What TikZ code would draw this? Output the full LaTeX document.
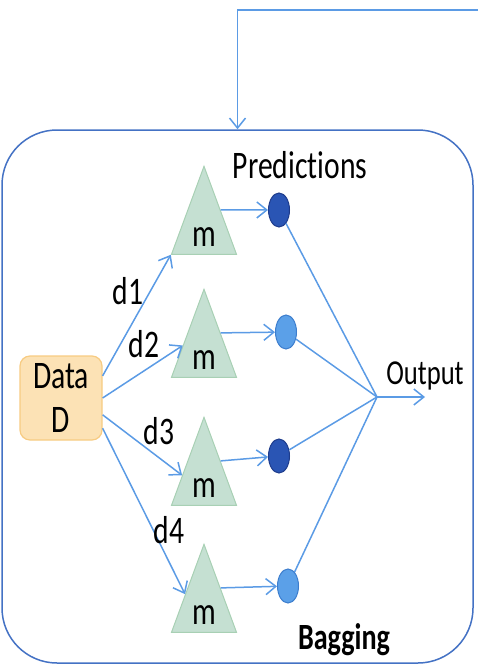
\documentclass[tikz,border=0pt]{standalone}
\usepackage{fontspec}
\setmainfont{Carlito}[FakeStretch=0.76, Ligatures=NoCommon]
\usetikzlibrary{positioning, arrows.meta, shapes.geometric, calc}

\definecolor{linkblue}{RGB}{91,155,229}
\definecolor{frameblue}{RGB}{68,114,196}
\definecolor{trifill}{RGB}{197,224,210}
\definecolor{triline}{RGB}{168,208,180}
\definecolor{datafill}{RGB}{252,226,181}
\definecolor{dataline}{RGB}{247,203,130}
\definecolor{darkpred}{RGB}{42,85,180}
\definecolor{darkpredline}{RGB}{30,60,140}
\definecolor{lightpred}{RGB}{91,160,232}
\definecolor{lightpredline}{RGB}{60,125,205}

\begin{document}
\begin{tikzpicture}[x=1pt, y=-1pt,
    every node/.style={font=\fontsize{39}{40}\selectfont},
    link/.style={draw=linkblue, line width=1.5pt, -{Straight Barb[length=10pt, width=16pt]}},
    voteline/.style={draw=linkblue, line width=1.5pt},
    model/.style={draw=triline, fill=trifill, line width=1pt, isosceles triangle, isosceles triangle stretches, shape border rotate=90, minimum width=65pt, minimum height=88pt, inner sep=0pt, anchor=apex},
    pred/.style={ellipse, minimum width=21pt, minimum height=34pt, inner sep=0pt, line width=1pt},
    darkp/.style={pred, draw=darkpredline, fill=darkpred},
    lightp/.style={pred, draw=lightpredline, fill=lightpred}]
    \useasboundingbox (0,0) rectangle (477,666);
    \node[draw=frameblue, line width=1.5pt, rounded corners=55pt, minimum width=471pt, minimum height=533pt] (frame) at (237.5,396.5) {};
    \coordinate (fb) at (478,10);
    \draw[link] (fb) -| (frame.north);

    \node[draw=dataline, fill=datafill, line width=1.2pt, rounded corners=10pt, minimum width=82pt, minimum height=84pt, align=center, inner sep=0pt, font=\fontsize{39}{44}\selectfont] (data) at (61,398) {Data\\D};

    % models
    \node[model] (m1) at (204,165) {};
    \node[model] (m2) at (204,288) {};
    \node[model] (m3) at (204,416) {};
    \node[model] (m4) at (204,543) {};
    \node[anchor=base] (m1text) at ($(m1.lower side)+(0,-8)$) {m};
    \node[anchor=base] (m2text) at ($(m2.lower side)+(0,-8)$) {m};
    \node[anchor=base] (m3text) at ($(m3.lower side)+(0,-8)$) {m};
    \node[anchor=base] (m4text) at ($(m4.lower side)+(0,-8)$) {m};

    % predictions
    \node[darkp] (p1) at (279,210) {};
    \node[lightp] (p2) at (286,332) {};
    \node[darkp] (p3) at (279,456) {};
    \node[lightp] (p4) at (288,586) {};
    \coordinate (vote) at (377,397);
    \coordinate (outtip) at (425,397);

    \draw[link] (data.28) -- (m1.left corner);
    \draw[link] (data.east) -- ($(m2.apex)!0.64!(m2.left corner)$);
    \draw[link] (data.-22) -- ($(m3.apex)!0.66!(m3.left corner)$);
    \draw[link] (data.-36) -- ($(m4.apex)!0.57!(m4.left corner)$);
    \node (d1) at (128,291) {d1};
    \node (d2) at (144,344) {d2};
    \node (d3) at (159,431) {d3};
    \node (d4) at (169,530) {d4};

    \draw[link] (m1.right side) -- (p1);
    \draw[link] (m2.right side) -- (p2);
    \draw[link] (m3.right side) -- (p3);
    \draw[link] (m4.right side) -- (p4);
    \draw[voteline] (p1) -- (vote);
    \draw[voteline] (p2) -- (vote);
    \draw[voteline] (p3) -- (vote);
    \draw[voteline] (p4) -- (vote);
    \draw[link] (vote) -- (outtip);

    \node (predlabel) at (300,165) {Predictions};
    \node[font=\fontsize{35}{36}\selectfont] (outlabel) at (425,376) {Output};
    \node[font=\fontsize{37}{38}\selectfont\bfseries] (baglabel) at (344,640) {Bagging};
\end{tikzpicture}
\end{document}
